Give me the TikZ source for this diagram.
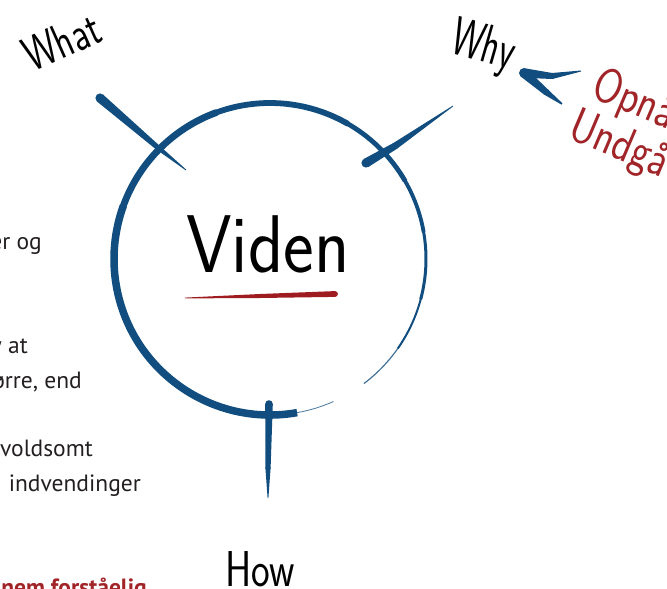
\documentclass[tikz,border=0pt]{standalone}
\usepackage{fontspec}
\usepackage{graphicx}
\usetikzlibrary{calc}
\newfontfamily\bodyfont{PT Sans}
\definecolor{brushblue}{RGB}{17,78,127}
\definecolor{brushred}{RGB}{158,27,32}
\definecolor{textred}{RGB}{160,36,40}
\definecolor{bodygray}{RGB}{35,31,32}
% tapered segment from #1 (half width #3) to #2 (half width #4)
\newcommand\brushseg[5]{%
  \fill[#5] ($(#1)!#3!90:(#2)$) -- ($(#2)!#4!-90:(#1)$) -- ($(#2)!#4!90:(#1)$) -- ($(#1)!#3!-90:(#2)$) -- cycle;
  \fill[#5] (#1) circle (#3);}
\tikzset{
  hand/.style={inner sep=0pt, font=\sffamily, text=black},
  redhand/.style={hand, text=textred},
  body/.style={inner sep=0pt, anchor=base east, font=\bodyfont\fontsize{23.5}{24}\selectfont, text=bodygray},
  ring/.style={draw=brushblue, line cap=butt},
}
\begin{document}
\begin{tikzpicture}[x=1pt,y=-1pt]
\useasboundingbox (0,0) rectangle (667,589);
% circle (brush ring)
\coordinate (c) at (270,259);
\foreach \a/\b/\w in {80/200/7.5, 199/250/6.8, 249/300/5.8, 299/330/4.8, 329/350/3.8, 349/375/3.0, 374/395/2.0}{
  \draw[ring, line width=\w pt] ($(c)+(\a:156)$) arc[start angle=\a, end angle=\b, radius=156];
}
\draw[ring, line width=1.2pt, draw opacity=0.8] ($(c)+(35:156)$) arc[start angle=35, end angle=53, radius=156];
\draw[ring, line width=0.9pt, draw opacity=0.7] ($(c)+(66:156)$) arc[start angle=66, end angle=80, radius=156];
% brush strokes
\coordinate (wa) at (100,98);   \coordinate (wm) at (156,146);  \coordinate (wb) at (186,170);
\coordinate (ya) at (366,163);  \coordinate (ym) at (395,146);  \coordinate (yb) at (453,106);
\coordinate (ha) at (269,404);  \coordinate (hm) at (268,468);  \coordinate (hb) at (268,498);
\coordinate (tip) at (524,73);
\coordinate (am) at (552,76);   \coordinate (aa) at (581,71);
\coordinate (bm) at (546,92);   \coordinate (ab) at (562,104);
\coordinate (ua) at (335,294);  \coordinate (um) at (260,296);  \coordinate (ub) at (185,298);
\brushseg{wa}{wm}{4.6pt}{2.6pt}{brushblue}
\brushseg{wm}{wb}{2.6pt}{0.4pt}{brushblue}
\brushseg{ya}{ym}{4.6pt}{3.4pt}{brushblue}
\brushseg{ym}{yb}{3.4pt}{0.4pt}{brushblue}
\brushseg{ha}{hm}{3.8pt}{2.6pt}{brushblue}
\brushseg{hm}{hb}{2.6pt}{0.4pt}{brushblue}
\brushseg{tip}{am}{4.8pt}{3.0pt}{brushblue}
\brushseg{am}{aa}{3.0pt}{0.5pt}{brushblue}
\brushseg{tip}{bm}{4.8pt}{3.2pt}{brushblue}
\brushseg{bm}{ab}{3.2pt}{0.8pt}{brushblue}
\brushseg{ua}{um}{2.9pt}{2.0pt}{brushred}
\brushseg{um}{ub}{2.0pt}{0.4pt}{brushred}
% hand lettering
\node[hand, anchor=base west] (viden) at (186,272) {\scalebox{1.16}[1.3]{\fontsize{63}{63}\selectfont Viden}};
\node[hand, anchor=base west, rotate=24] (what) at (32,73) {\scalebox{1.05}[1.4]{\fontsize{35}{35}\selectfont What}};
\node[hand, anchor=base west, rotate=-16] (why) at (448,52) {\scalebox{1.05}[1.6]{\fontsize{34}{34}\selectfont Why}};
\node[hand, anchor=base west] (how) at (225,586) {\scalebox{1.1}[1.4]{\fontsize{36}{36}\selectfont How}};
\node[redhand, anchor=base west, rotate=-23] (opna) at (589,96) {\scalebox{1}[1.2]{\fontsize{41}{41}\selectfont Opnå}};
\node[redhand, anchor=base west, rotate=-23] (undga) at (566,137) {\scalebox{1}[1.2]{\fontsize{41}{41}\selectfont Undgå}};
% body text fragments at the left edge
\node[body] (t1) at (42,249) {er og};
\node[body] (t2) at (28,353) {y at};
\node[body] (t3) at (82,388) {ørre, end};
\node[body] (t4) at (93,456) {voldsomt};
\node[body] (t5) at (141,491) {indvendinger};
\node[body, font=\bodyfont\bfseries\fontsize{23.5}{24}\selectfont, text=textred] (t6) at (147,595) {nem forståelig};
\end{tikzpicture}
\end{document}
